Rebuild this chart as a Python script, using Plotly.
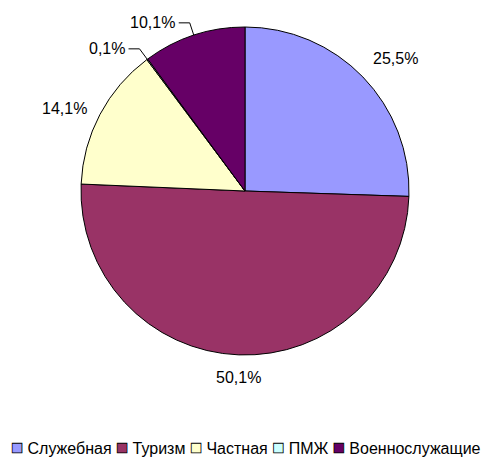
import math
import plotly.graph_objects as go

categories = ["Служебная", "Туризм", "Частная", "ПМЖ", "Военнослужащие"]
values = [25.5, 50.1, 14.1, 0.1, 10.1]
colors = ["#9999FF", "#993366", "#FFFFCC", "#CCFFFF", "#660066"]

W, H = 484, 457
cx, cy, R = 245, 191, 164
FONT = "Liberation Sans, Arial, sans-serif"
FS = 16

def px(x):
    return x / W

def py(y):
    return (H - y) / H

labels_text = [f"{v:.1f}".replace(".", ",") + "%" for v in values]

fig = go.Figure(go.Pie(
    labels=categories, values=values, sort=False, direction="clockwise", rotation=0,
    marker=dict(colors=colors, line=dict(color="black", width=1)),
    textinfo="none",
    domain=dict(x=[px(cx - R), px(cx + R)], y=[py(cy + R), py(cy - R)]),
    hoverinfo="label+percent", showlegend=False,
))

# data labels placed from each slice's mid-angle
total = sum(values)
cum = 0.0
for v, t in zip(values, labels_text):
    mid = (cum + v / 2) / total * 2 * math.pi
    cum += v
    s, c = math.sin(mid), math.cos(mid)
    ex, ey = cx + R * s, cy - R * c
    if v / total < 0.12 and s < 0 and c > 0.5:
        # small slices at the top-left: leader line with an elbow
        d = 13
        elx, ely = ex + d * s, ey - d * c
        hx = elx - 11
        fig.add_shape(type="path", xref="paper", yref="paper",
                      path=f"M {px(hx)},{py(ely)} L {px(elx)},{py(ely)} L {px(ex)},{py(ey)}",
                      line=dict(color="black", width=1))
        fig.add_annotation(text=t, x=px(hx - 2), y=py(ely), xref="paper", yref="paper",
                           showarrow=False, xanchor="right", yanchor="middle",
                           font=dict(family=FONT, size=FS, color="black"))
    else:
        d = 12
        lx, ly = ex + d * s, ey - d * c
        xa = "left" if s > 0.3 else ("right" if s < -0.3 else "center")
        ya = "bottom" if c > 0.5 else ("top" if c < -0.5 else "middle")
        fig.add_annotation(text=t, x=px(lx), y=py(ly), xref="paper", yref="paper",
                           showarrow=False, xanchor=xa, yanchor=ya,
                           font=dict(family=FONT, size=FS, color="black"))

# legend line
parts = []
for c, name in zip(colors, categories):
    parts.append(f"<span style='color:{c};stroke:black;stroke-width:0.8px;font-size:20px'>■</span> {name}")
fig.add_annotation(text=" ".join(parts), x=px(246), y=py(447), xref="paper", yref="paper",
                   showarrow=False, font=dict(family=FONT, size=FS, color="black"),
                   xanchor="center", yanchor="middle")

fig.update_layout(width=W, height=H, margin=dict(l=0, r=0, t=0, b=0),
                  paper_bgcolor="white", plot_bgcolor="white")
fig.write_html("out.html", config={"displayModeBar": False},
               post_script="document.body.style.margin='0';")
